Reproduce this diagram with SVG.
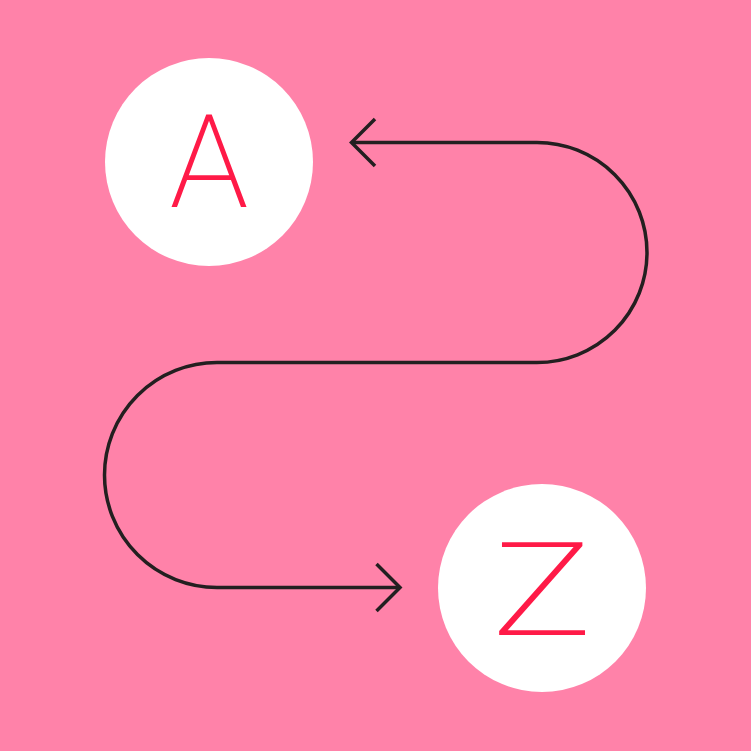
<svg xmlns="http://www.w3.org/2000/svg" width="751" height="751" viewBox="0 0 751 751">
  <style>
    .bg { fill: #FF82A9; }
    .node circle { fill: #FFFFFF; }
    .letter { fill: #FF1A47; font-family: Roboto, Inter, "Open Sans", "Liberation Sans", sans-serif; font-weight: 200; font-size: 130px; text-anchor: middle; }
    .conn path { fill: none; stroke: #231F20; stroke-width: 3.5; stroke-linecap: butt; stroke-linejoin: miter; }
  </style>
  <rect class="bg" x="0" y="0" width="751" height="751"/>
  <g id="node-a" class="node">
    <circle cx="209" cy="162" r="104"/>
    <text class="letter" x="209" y="207">A</text>
  </g>
  <g id="node-z" class="node">
    <circle cx="542" cy="588" r="104"/>
    <text class="letter" x="0" y="635" transform="translate(542 0) scale(1.3 1)">Z</text>
  </g>
  <g id="connectors" class="conn">
    <path d="M352 142.5 H537 A110 110 0 0 1 537 362.5 H217 A112.5 112.5 0 0 0 217 587.5 H399"/>
    <path d="M375 119 L351.5 142.5 L375 166"/>
    <path d="M376.5 564 L400 587.5 L376.5 611"/>
  </g>
</svg>
